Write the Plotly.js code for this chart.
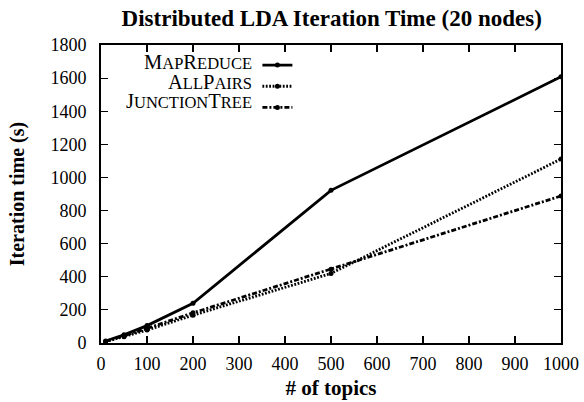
<!DOCTYPE html>
<html><head><meta charset="utf-8">
<script src="https://cdn.plot.ly/plotly-3.0.1.min.js"></script>
<style>body{margin:0;background:#fff}#c{width:584px;height:402px}</style>
</head><body><div id="c"></div>
<script>
const topics = [10, 50, 100, 200, 500, 1000];
const mapReduce = [12, 50, 105, 240, 922, 1608];
const allPairs = [8, 38, 78, 168, 420, 1111];
const junctionTree = [9, 44, 88, 182, 445, 888];
const seriesNames = ["MapReduce", "AllPairs", "JunctionTree"];
const xTicks = [0,100,200,300,400,500,600,700,800,900,1000];
const yTicks = [0,200,400,600,800,1000,1200,1400,1600,1800];

function smallCaps(s){
  let out = "";
  for (const ch of s){
    if (ch === ch.toUpperCase()) out += ch;
    else out += '<span style="font-size:16.5px">' + ch.toUpperCase() + '</span>';
  }
  return out;
}

const serif = "Liberation Serif";
const dashes = ["solid", "1.8px,1.6px", "5px,2px,2px,2px"];
const series = [mapReduce, allPairs, junctionTree];
const traces = series.map((ys, i) => ({
  x: topics, y: ys, type: "scatter", mode: "lines+markers",
  name: " ",
  line: {color: "#000", width: 2.8, dash: dashes[i]},
  marker: {color: "#000", size: 5, symbol: "circle"}
}));

const legY = [0.943, 0.876, 0.812];
const annotations = seriesNames.map((n, i) => ({
  text: smallCaps(n), xref: "paper", yref: "paper", x: 0.332, y: legY[i],
  xanchor: "right", yanchor: "middle", showarrow: false,
  font: {family: serif, size: 20.5, color: "#000"}
}));

const axisCommon = {
  showgrid: false, zeroline: false, showline: true, linecolor: "#000", linewidth: 2,
  mirror: "allticks", ticks: "inside", ticklen: 7, tickwidth: 1.2, tickcolor: "#000",
  tickfont: {family: serif, size: 18, color: "#000"}
};

const layout = {
  width: 584, height: 402,
  margin: {l: 101, r: 23, t: 45, b: 59},
  paper_bgcolor: "#fff", plot_bgcolor: "#fff",
  font: {family: serif},
  title: {text: "<b>Distributed LDA Iteration Time (20 nodes)</b>", x: 0.568, xanchor: "center",
    y: 0.955, yanchor: "middle",
    font: {family: serif, size: 23, color: "#000"}},
  xaxis: Object.assign({}, axisCommon, {range: [0, 1000], tickvals: xTicks, ticklabelstandoff: 3,
    title: {text: "<b># of topics</b>", font: {family: serif, size: 21, color: "#000"}, standoff: 8}}),
  yaxis: Object.assign({}, axisCommon, {range: [0, 1800], tickvals: yTicks, ticklabelstandoff: 9,
    title: {text: "<b>Iteration time (s)</b>", font: {family: serif, size: 20, color: "#000"}, standoff: 20}}),
  showlegend: true,
  legend: {x: 0.34, y: 0.985, xanchor: "left", yanchor: "top", bgcolor: "rgba(0,0,0,0)",
    font: {family: serif, size: 14}, tracegroupgap: 0, itemwidth: 30},
  annotations: annotations
};

Plotly.newPlot("c", traces, layout, {staticPlot: true, displayModeBar: false});
</script></body></html>
